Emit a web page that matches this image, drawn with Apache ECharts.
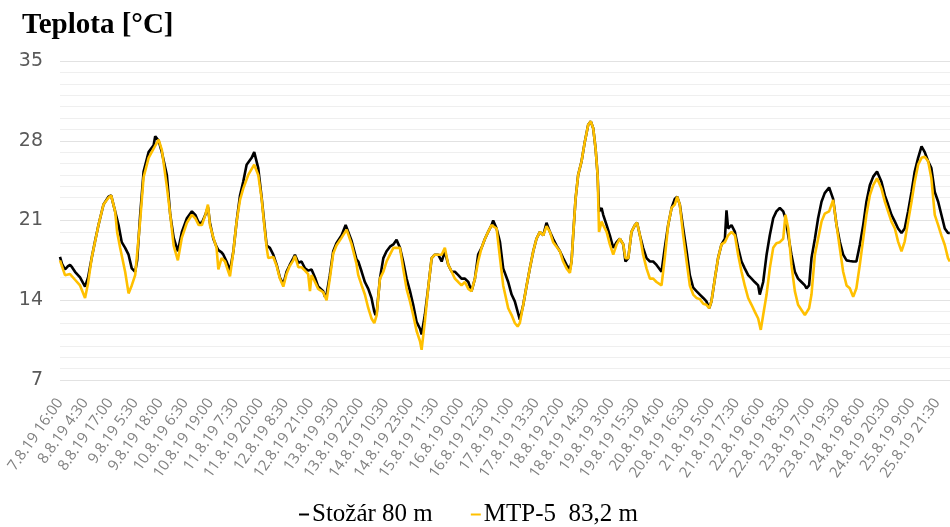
<!DOCTYPE html>
<html><head><meta charset="utf-8">
<script src="https://cdn.jsdelivr.net/npm/echarts@6/dist/echarts.min.js"></script>
<style>html,body{margin:0;padding:0;background:#fff}#c{width:950px;height:527px}</style>
</head><body><div id="c"></div>
<script>
// hours since 7.8.19 16:00, temperature [°C]
const stozar = [[0,17.8],[1,17.2],[2.5,16.7],[4,17.0],[5,17.1],[6,16.9],[7.5,16.5],[10,16.0],[12.5,15.2],[14,16.0],[15.8,17.7],[17.5,19.2],[19.2,20.6],[21.7,22.4],[24.2,23.1],[25.5,23.2],[27.5,21.8],[29.2,20.6],[30.8,19.1],[32.5,18.6],[34.2,18.0],[35.8,16.8],[37.5,16.5],[38.5,17.5],[40,21.5],[41.7,25.3],[44.2,27.0],[46.7,27.6],[47.5,28.4],[49.2,28.0],[50.8,27.0],[53.3,25.0],[55,21.5],[56.7,19.5],[58.8,18.3],[59.5,18.3],[60.8,20.0],[63.3,21.2],[65.8,21.8],[67.5,21.5],[69.2,20.8],[70.8,20.8],[72.5,21.5],[73.8,22.2],
[74.8,20.8],[76.5,19.4],[78.1,18.7],[79,18.4],[80.6,18.2],[81.5,18.0],[83.1,17.4],[84.8,16.6],[86.5,18.3],[88.1,20.9],[89.8,23.2],[91.4,24.4],[93.1,25.9],[95.6,26.5],[96.9,27.0],[98.9,25.6],[100.6,23.0],[101.9,20.8],[103.1,18.8],[104.7,18.6],[106.4,18.0],[108.1,17.1],[109.7,16.0],[111.4,15.4],[113,16.5],[114.6,17.1],[116.4,17.7],[117.2,18.0],[118.9,17.3],[120.5,17.4],[122.2,16.8],[123.8,16.6],[125.5,16.7],[127.2,16.0],[128.8,15.2],[131.3,14.8],[132.2,14.3],[133,14.5],[134.6,16.2],[136.3,18.3],[137.9,19.0],[140.5,19.7],[142.5,20.6],[145.5,19.2],[147.9,17.6],
[148.8,17.4],[150.5,16.5],[152.1,15.6],[153.8,15.0],[155.4,14.2],[156.8,13.0],[157.4,12.7],[158,12.9],[159.6,15.9],[161.3,17.7],[162.9,18.3],[164.6,18.7],[166.3,18.9],[167.9,19.3],[169.6,18.6],[171.2,17.4],[172.9,15.9],[174.6,14.8],[176.2,13.6],[177.9,12.1],[179.6,11.5],[180.4,11.0],[182,12.7],[183.7,15.1],[185.4,17.7],[187,18.0],[188.7,18.0],[190.4,17.4],[192,18.3],[193.7,17.1],[195.4,16.5],[197,16.5],[198.7,16.2],[200.3,15.9],[202,15.9],[203.7,15.6],[205.3,14.8],[207,15.9],[208.6,18.0],[210.3,18.6],[212,19.4],[213.6,20.0],[215.3,20.6],[216.1,21.0],[217.8,20.3],[219.5,19.1],[221.1,16.8],
[223.6,15.6],[225.3,14.5],[226.9,13.9],[228.3,13.0],[229.4,12.3],[231.1,13.6],[232.8,15.3],[234.4,16.8],[236.1,18.3],[237.7,19.4],[239.4,20.0],[241.1,19.7],[242.7,20.8],[244.4,20.0],[246,19.4],[247.7,18.8],[249.4,18.3],[251,17.7],[252.7,17.1],[254.4,16.7],[255.2,17.4],[256,19.7],[257.2,22.9],[258.5,25.0],[260.2,26.2],[261.8,27.9],[263.5,29.4],[264.8,29.7],[266,29.1],[267.2,27.3],[268.2,25.0],[268.9,21.8],[270.2,22.1],[271,21.5],[272.7,20.6],[274.3,19.7],[276,18.6],[277.7,19.1],[279.3,19.4],[281,18.9],[282.1,17.4],[283.5,17.7],[285.1,20.0],[286.8,20.6],[287.9,20.8],[289.3,19.7],[290.9,18.6],[292.6,17.7],[294.3,17.4],[295.9,17.4],[297.6,17.1],
[298.4,17.0],[300.1,16.5],[301.7,18.6],[303.4,20.6],[305.1,22.1],[306.7,22.9],[307.9,23.1],[309.2,22.4],[310.9,20.3],[312.6,18.3],[314.2,16.2],[315.9,15.1],[317.5,14.8],[319.2,14.5],[320.9,14.2],[322.5,13.9],[323.9,13.3],[325,13.9],[326.7,15.9],[328.3,17.7],[330,18.9],[331.7,19.4],[332.5,21.9],[333.3,20.3],[335,20.6],[336.7,20.0],[338.3,18.6],[340,17.4],[341.6,16.8],[343.3,16.2],[345,15.9],[346.6,15.6],[348.3,15.3],[349.1,14.5],[350.8,15.6],[352.5,18.0],[354.1,19.7],[355.8,21.2],[357.4,21.8],[359.1,22.1],[360.8,21.8],[361.9,21.2],[363.3,19.7],[364.9,18.0],[366.6,16.5],[368.2,15.9],[369.9,15.6],[371.6,15.3],
[372.4,15.05],[373.7,15.3],[374.9,17.7],[376.6,19.4],[378.2,21.2],[379.9,22.65],[381.5,23.4],[383.7,23.9],[385.7,22.9],[387.4,20.6],[389,19.15],[390.7,18.0],[392.4,17.5],[394,17.45],[395.7,17.4],[397.3,17.4],[399,18.85],[400.7,20.6],[402.3,22.65],[404,24.1],[405.7,24.85],[407.6,25.3],[409.8,24.4],[411.5,23.2],[413.1,22.4],[414.8,21.5],[416.5,20.9],[418.1,20.3],[419.8,19.9],[421.4,20.3],[423.1,21.8],[424.8,23.5],[426.4,25.3],[428.1,26.5],[429.8,27.5],[431.4,27.0],[433.1,26.2],[434.7,25.6],[436.4,23.5],[438.1,22.65],[439.7,21.5],[441.4,20.3],[443,19.9],[443.9,19.9]];

const mtp = [[0,17.5],[2.5,16.2],[5,16.3],[7.5,15.8],[10,15.3],[12.5,14.2],[14,15.5],[15.8,17.7],[19.2,20.6],[21.7,22.4],[24.2,23.0],[25.5,23.2],[27.5,21.8],[28.5,20.0],[30,18.6],[32.5,16.5],[34.2,14.6],[35.8,15.3],[37.5,16.2],[40,21.0],[41.7,24.8],[44.2,26.5],[46.7,27.3],[49.2,28.1],[50.8,27.2],[53.3,24.0],[55,21.5],[56.7,18.8],[58.8,17.5],[59.5,17.4],[60.8,19.5],[63.3,20.8],[65.8,21.5],[67.5,21.2],[69.2,20.6],[70.8,20.6],[72.5,21.5],[73.8,22.4],
[74.8,20.6],[76.5,19.5],[78.1,18.6],[79,16.7],[80.6,17.7],[82.3,17.4],[84,16.5],[84.8,16.1],[86.5,18.3],[88.1,20.9],[89.8,22.8],[91.4,23.8],[93.9,25.0],[96.9,25.9],[98.9,25.0],[100.6,22.9],[101.9,20.6],[103.1,18.6],[103.9,17.7],[106.4,17.8],[108.1,17.0],[109.7,15.9],[111.4,15.2],[113,16.3],[114.6,17.0],[116.4,17.5],[117.2,17.9],[118.9,16.9],[120.5,16.9],[122.2,16.6],[123.8,16.3],[124.7,14.8],[125.5,16.2],[127.2,15.6],[128.8,15.0],[131.3,14.7],[133,14.0],[134.6,15.9],[136.3,18.1],[137.9,18.8],[140.5,19.5],[143,20.2],[145.5,18.9],[147.9,17.2],
[148.8,16.2],[150.5,15.3],[152.1,14.5],[153.8,13.3],[155.4,12.4],[156.8,12.0],[158,12.7],[159.6,15.9],[161.3,16.5],[162.9,17.4],[164.6,18.0],[166.3,18.6],[167.9,18.6],[169.6,18.6],[171.2,16.8],[172.9,15.0],[174.6,13.9],[176.2,12.7],[177.9,11.3],[179.6,10.4],[180.4,9.65],[182,12.1],[183.7,15.1],[185.4,17.7],[187,18.0],[188.7,18.0],[190.4,18.0],[192,18.6],[193.7,17.1],[195.4,16.5],[197,15.9],[198.7,15.6],[200.3,15.3],[202,15.6],[203.7,15.0],[205.3,14.8],[207,15.9],[208.6,17.4],[210.3,18.6],[212,19.4],[213.6,20.0],[215.3,20.6],[216.1,20.6],[217.8,20.3],[219.5,17.7],[221.1,15.3],
[223.6,13.3],[225.3,12.7],[226.9,12.0],[228.3,11.7],[229.4,12.0],[231.1,13.6],[232.8,15.3],[234.4,16.8],[236.1,18.3],[237.7,19.4],[239.4,20.0],[241.1,19.7],[242.7,20.5],[244.4,20.0],[246,19.1],[247.7,18.7],[249.4,18.3],[251,17.4],[252.7,16.8],[254.4,16.4],[255.2,17.4],[256,19.7],[257.2,22.9],[258.5,25.0],[260.2,26.2],[261.8,27.9],[263.5,29.4],[264.8,29.7],[266,29.1],[267.2,27.3],[268.2,25.0],[268.9,20.0],[270.2,20.9],[271,20.6],[272.7,20.0],[274.3,18.9],[276,18.0],[277.7,18.9],[279.3,19.4],[281,18.9],[282.1,17.7],[283.5,17.7],[285.1,20.0],[286.8,20.6],[287.9,20.8],[289.3,19.7],[290.9,18.0],[292.6,16.8],[294.3,15.9],[295.9,15.9],[297.6,15.6],
[298.4,15.6],[300.1,15.3],[301.7,17.7],[303.4,20.6],[305.1,22.1],[306.7,22.4],[307.9,23.1],[309.2,22.4],[310.9,19.7],[312.6,17.4],[314.2,15.3],[315.9,14.5],[317.5,14.2],[319.2,14.1],[320.9,13.7],[322.5,13.6],[323.9,13.3],[325,13.9],[326.7,15.9],[328.3,17.7],[330,18.9],[331.7,19.1],[332.5,19.4],[333.3,19.7],[335,20.0],[336.7,19.7],[338.3,18.0],[340,16.5],[341.6,15.3],[343.3,14.2],[345,13.6],[346.6,13.0],[348.3,12.4],[349.6,11.4],[350.8,12.7],[352.5,14.5],[354.1,16.8],[355.8,18.6],[357.4,19.0],[359.1,19.1],[360.8,19.4],[361.9,21.5],[363.3,20.3],[364.9,17.1],[366.6,14.8],[368.2,13.6],[369.9,13.15],[371.6,12.7],
[372.4,12.6],[373.7,13.3],[374.9,14.5],[376.6,18.0],[378.2,19.4],[379.9,20.9],[381.5,21.6],[383.7,21.8],[385.7,22.8],[387.4,20.6],[389,18.6],[390.7,16.5],[392.4,15.3],[394,15.05],[395.7,14.3],[397.3,15.05],[399,17.1],[400.7,19.4],[402.3,21.5],[404,23.2],[405.7,24.1],[407.6,24.7],[409.8,23.8],[411.5,22.65],[413.1,21.8],[414.8,20.9],[416.5,20.3],[418.1,19.15],[419.8,18.3],[421.4,19.15],[423.1,20.9],[424.8,22.65],[426.4,24.4],[428.1,25.9],[429.8,26.5],[431.4,26.6],[433.1,26.2],[434.7,24.7],[436.4,21.5],[438.1,20.6],[439.7,19.7],[441.4,18.85],[443,17.7],[443.9,17.4]];

const tickLabels = ['7.8.19 16:00','8.8.19 4:30','8.8.19 17:00','9.8.19 5:30','9.8.19 18:00','10.8.19 6:30','10.8.19 19:00','11.8.19 7:30','11.8.19 20:00','12.8.19 8:30','12.8.19 21:00','13.8.19 9:30','13.8.19 22:00','14.8.19 10:30','14.8.19 23:00','15.8.19 11:30','16.8.19 0:00','16.8.19 12:30','17.8.19 1:00','17.8.19 13:30','18.8.19 2:00','18.8.19 14:30','19.8.19 3:00','19.8.19 15:30','20.8.19 4:00','20.8.19 16:30','21.8.19 5:00','21.8.19 17:30','22.8.19 6:00','22.8.19 18:30','23.8.19 7:00','23.8.19 19:30','24.8.19 8:00','24.8.19 20:30','25.8.19 9:00','25.8.19 21:30'];
const tickStep = 12.5;
const seriesNames = ['Stožár 80 m', 'MTP-5  83,2 m'];
const yTicks = [7, 14, 21, 28, 35];

const chart = echarts.init(document.getElementById('c'), null, {renderer: 'canvas'});
chart.setOption({
  animation: false,
  backgroundColor: '#ffffff',
  title: {
    text: 'Teplota [°C]', left: 17, top: 6,
    textStyle: {fontFamily: 'Liberation Serif', fontWeight: 'bold', fontSize: 29, color: '#000'}
  },
  legend: {
    left: 294, top: 497, itemGap: 38, itemWidth: 10, itemHeight: 2, icon: 'rect',
    textStyle: {fontFamily: 'Liberation Serif', fontSize: 25, color: '#000', padding: [0,0,0,-2]},
    data: seriesNames
  },
  grid: {left: 60, right: 0, top: 61, bottom: 147, containLabel: false, outerBoundsMode: 'none'},
  xAxis: {
    type: 'value', min: 0, max: 444, interval: tickStep,
    axisLine: {show: false}, axisTick: {show: false}, splitLine: {show: false},
    axisLabel: {
      rotate: 55, margin: 20, color: '#808080', fontFamily: 'Open Sans', fontSize: 15,
      showMaxLabel: false,
      formatter: function (v) {
        const i = Math.round(v / tickStep);
        if (Math.abs(v - i * tickStep) > 1e-6 || i >= tickLabels.length) return '';
        return tickLabels[i];
      }
    }
  },
  yAxis: {
    type: 'value', min: yTicks[0], max: yTicks[yTicks.length - 1], interval: 7,
    axisLine: {show: false}, axisTick: {show: false},
    axisLabel: {margin: 17, color: '#595959', fontFamily: 'DejaVu Sans', fontSize: 19},
    splitLine: {show: true, lineStyle: {color: '#e2e2e2', width: 1}},
    minorTick: {show: false, splitNumber: 7},
    minorSplitLine: {show: true, lineStyle: {color: '#efefef', width: 1}}
  },
  series: [
    {name: seriesNames[0], type: 'line', data: stozar, showSymbol: false, symbol: 'none',
     color: '#000000', lineStyle: {color: '#000000', width: 2.6}},
    {name: seriesNames[1], type: 'line', data: mtp, showSymbol: false, symbol: 'none',
     color: '#FFC000', lineStyle: {color: '#FFC000', width: 2.6}}
  ]
});
</script></body></html>
